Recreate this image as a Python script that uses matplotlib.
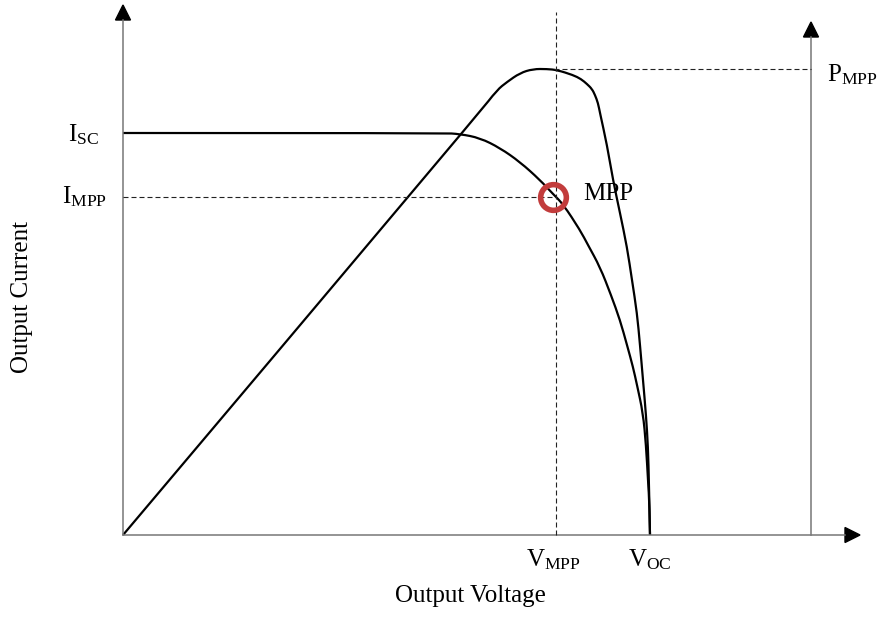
import numpy as np
import matplotlib.pyplot as plt
from matplotlib.patches import Polygon, PathPatch
from matplotlib.path import Path

plt.rcParams['font.family'] = ['Liberation Serif', 'DejaVu Serif']
plt.rcParams['mathtext.fontset'] = 'custom'
plt.rcParams['mathtext.rm'] = 'Liberation Serif'
plt.rcParams['mathtext.it'] = 'Liberation Serif:italic'

# voltage / current in drawing units (origin at the axes corner)
iv_v = [0, 320, 337, 357, 377, 397, 417, 430, 440, 457, 465, 477, 488, 497,
        504, 510, 514, 520, 523, 525, 526.5, 527]
iv_i = [402, 402, 401, 397, 387, 373, 355, 341, 331, 305, 290, 268, 240, 215,
        190, 168, 150, 122, 90, 55, 30, 0]

pv_v = [0, 357, 374, 384, 397, 410, 424, 434, 450, 458, 464, 469, 472, 475, 477,
        484, 490, 497, 504, 509, 514, 517, 520, 523, 525, 526, 527]
pv_p = [0, 423, 445, 453, 462, 466, 466, 465, 460, 456, 451, 446, 440, 432, 422,
        390, 355, 322, 288, 255, 222, 190, 155, 120, 88, 50, 0]

v_mpp, i_mpp, p_mpp = 433, 338, 466
v_circ = 430
v_oc, i_sc = 527, 402
p_axis_x = 688


def smooth_path(xs, ys):
    # read points used as quadratic control points, curve runs through midpoints
    pts = list(zip(xs, ys))
    verts = [pts[0]]
    codes = [Path.MOVETO]
    for k in range(1, len(pts) - 1):
        mid = ((pts[k][0] + pts[k + 1][0]) / 2, (pts[k][1] + pts[k + 1][1]) / 2)
        if k == len(pts) - 2:
            mid = pts[-1]
        verts += [pts[k], mid]
        codes += [Path.CURVE3, Path.CURVE3]
    return Path(verts, codes)


fig = plt.figure(figsize=(8.82, 6.17), dpi=100)
ax = fig.add_axes([0, 0, 1, 1])
ax.set_xlim(-123, 759)
ax.set_ylim(-82, 535)
ax.axis('off')

axc = '#777777'
# axes with arrow heads
ax.plot([0, 0], [0, 515], color=axc, lw=1.1)
ax.add_patch(Polygon([[-7.5, 515], [7.5, 515], [0, 530]], color='black'))
ax.plot([0, 722], [0, 0], color=axc, lw=1.1)
ax.add_patch(Polygon([[722, 7.5], [722, -7.5], [737, 0]], color='black'))
ax.plot([p_axis_x, p_axis_x], [0, 498], color=axc, lw=1.1)
ax.add_patch(Polygon([[p_axis_x - 7.5, 498], [p_axis_x + 7.5, 498], [p_axis_x, 513]], color='black'))

# dashed guides
ds = dict(color='#222222', lw=0.8, ls=(0, (4.5, 2.7)))
ax.plot([v_mpp, v_mpp], [0, 523], **ds)
ax.plot([0, v_mpp], [i_mpp, i_mpp], **ds)
ax.plot([v_mpp - 2, p_axis_x], [p_mpp, p_mpp], **ds)

# curves
for xs, ys in [(iv_v, iv_i), (pv_v, pv_p)]:
    ax.add_patch(PathPatch(smooth_path(xs, ys), fc='none', ec='black', lw=1.6,
                           joinstyle='round'))

ax.plot([v_circ], [i_mpp], 'o', ms=18.5, mfc='none', mec='#c23c3c', mew=4)

fs = 18
ax.text(-40, i_sc - 2, r'$\mathrm{I}_{\mathrm{SC}}$', fontsize=fs, ha='center', va='center')
ax.text(-39, i_mpp, r'$\mathrm{I}_{\mathrm{MPP}}$', fontsize=fs, ha='center', va='center')
ax.text(704, 460, r'$\mathrm{P}_{\mathrm{MPP}}$', fontsize=fs, ha='left', va='center')
ax.text(460, i_mpp + 3, 'MPP', fontsize=fs, ha='left', va='center')
ax.text(v_mpp - 3, -25, r'$\mathrm{V}_{\mathrm{MPP}}$', fontsize=fs, ha='center', va='center')
ax.text(v_oc, -25, r'$\mathrm{V}_{\mathrm{OC}}$', fontsize=fs, ha='center', va='center')
ax.text(347, -61, 'Output Voltage', fontsize=fs, ha='center', va='center')
ax.text(-101, 238, 'Output Current', fontsize=fs, ha='center', va='center', rotation=90)

fig.savefig('out.png', dpi=100)
